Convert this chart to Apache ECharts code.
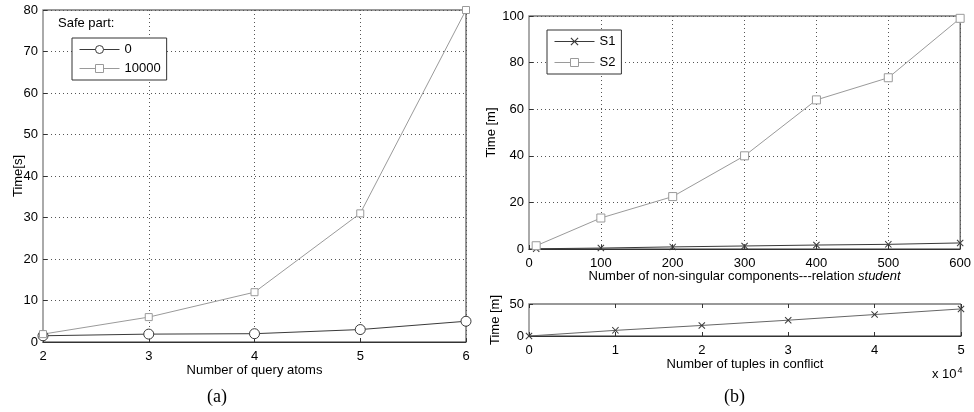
<!DOCTYPE html>
<html>
<head>
<meta charset="utf-8">
<script src="https://cdn.jsdelivr.net/npm/echarts@6/dist/echarts.min.js"></script>
<style>
  html, body { margin: 0; padding: 0; background: #fff; }
  #chart { width: 974px; height: 412px; }
</style>
</head>
<body>
<div id="chart"></div>
<script>
// (a) query atoms vs time
const atoms = [2, 3, 4, 5, 6]
const safe0 = [1.5, 1.9, 2.0, 3.0, 5.0]
const safe10000 = [1.9, 6.0, 12.0, 31.0, 80.0]

// (b) top: non-singular components
const components = [10, 100, 200, 300, 400, 500, 600]
const s1 = [0.1, 0.4, 0.9, 1.3, 1.7, 2.0, 2.6]
const s2 = [1.4, 13.3, 22.5, 40, 64, 73.5, 99]

// (b) bottom: tuples in conflict (x 10^4)
const tuples = [0, 1, 2, 3, 4, 5]
const tupleTime = [0, 8.8, 16.5, 24.7, 33.5, 42.3]

const FONT = '"Liberation Sans", Arial, sans-serif'
const DARK = '#3a3a3a'
const LIGHT = '#9a9a9a'
const xMark = 'path://M0,1L1,0L5,4L9,0L10,1L6,5L10,9L9,10L5,6L1,10L0,9L4,5Z'

const pairs = (xs, ys) => xs.map((x, i) => [x, ys[i]])

const label = { color: '#000', fontFamily: FONT, fontSize: 13 }
const nameStyle = { color: '#000', fontFamily: FONT, fontSize: 13 }
const split = { show: true, lineStyle: { color: '#555', type: [1, 3], width: 1 } }
const tick = { show: true, inside: true, length: 4, lineStyle: { color: '#333' } }
const leftLine = { show: true, lineStyle: { color: '#aaa', width: 2 } }
const bottomLine = { show: true, lineStyle: { color: '#333', width: 1 } }

const legendBase = {
  orient: 'vertical', itemWidth: 40, itemHeight: 10, padding: [5, 6, 5, 7],
  borderColor: '#333', borderWidth: 1, backgroundColor: '#fff',
  lineStyle: { width: 1 }, itemStyle: { borderWidth: 1 },
  textStyle: { color: '#000', fontFamily: FONT, fontSize: 13 }
}

const chart = echarts.init(document.getElementById('chart'))

chart.setOption({
  animation: false,
  backgroundColor: '#fff',
  textStyle: { fontFamily: FONT },
  grid: [
    { left: 43, top: 10, width: 423, height: 332, show: true, borderColor: '#333', borderWidth: 1 },
    { left: 529, top: 16, width: 432, height: 233, show: true, borderColor: '#333', borderWidth: 1 },
    { left: 529, top: 304, width: 432, height: 32, show: true, borderColor: '#333', borderWidth: 1 }
  ],
  xAxis: [
    {
      gridIndex: 0, type: 'value', min: 2, max: 6, interval: 1,
      name: 'Number of query atoms', nameLocation: 'middle', nameGap: 22, nameTextStyle: nameStyle,
      nameMoveOverlap: false,
      axisLabel: label, axisTick: tick, axisLine: bottomLine, splitLine: split
    },
    {
      gridIndex: 1, type: 'value', min: 0, max: 600, interval: 100,
      name: 'Number of non-singular components---relation {i|student}',
      nameLocation: 'middle', nameGap: 21, nameMoveOverlap: false,
      nameTextStyle: Object.assign({}, nameStyle, { rich: { i: { fontStyle: 'italic', fontFamily: FONT, fontSize: 13, color: '#000' } } }),
      axisLabel: label, axisTick: tick, axisLine: bottomLine, splitLine: split
    },
    {
      gridIndex: 2, type: 'value', min: 0, max: 5, interval: 1,
      name: 'Number of tuples in conflict', nameLocation: 'middle', nameGap: 22, nameTextStyle: nameStyle,
      nameMoveOverlap: false,
      axisLabel: label, axisTick: tick, axisLine: bottomLine, splitLine: { show: false }
    },
    {
      gridIndex: 2, type: 'value', min: 0, max: 5, interval: 1, position: 'top',
      axisLabel: { show: false }, axisTick: tick, axisLine: { show: false }, splitLine: { show: false }
    }
  ],
  yAxis: [
    {
      gridIndex: 0, type: 'value', min: 0, max: 80, interval: 10,
      name: 'Time[s]', nameLocation: 'middle', nameGap: 18, nameTextStyle: nameStyle,
      nameMoveOverlap: false,
      axisLabel: Object.assign({ margin: 5 }, label), axisTick: tick, axisLine: leftLine, splitLine: split
    },
    {
      gridIndex: 1, type: 'value', min: 0, max: 100, interval: 20,
      name: 'Time [m]', nameLocation: 'middle', nameGap: 31, nameTextStyle: nameStyle,
      nameMoveOverlap: false,
      axisLabel: Object.assign({ margin: 5 }, label), axisTick: tick, axisLine: leftLine, splitLine: split
    },
    {
      gridIndex: 2, type: 'value', min: 0, max: 50, interval: 50,
      name: 'Time [m]', nameLocation: 'middle', nameGap: 27, nameTextStyle: nameStyle,
      nameMoveOverlap: false,
      axisLabel: Object.assign({ margin: 5 }, label), axisTick: tick, axisLine: leftLine, splitLine: { show: false }
    }
  ],
  legend: [
    Object.assign({}, legendBase, { data: ['0', '10000'], left: 72, top: 38, itemGap: 6 }),
    Object.assign({}, legendBase, { data: ['S1', 'S2'], left: 547, top: 30, itemGap: 8 })
  ],
  series: [
    {
      name: '0', type: 'line', xAxisIndex: 0, yAxisIndex: 0,
      data: pairs(atoms, safe0),
      symbol: 'circle', symbolSize: 10,
      lineStyle: { color: DARK, width: 1 },
      itemStyle: { color: '#fff', borderColor: DARK, borderWidth: 1 }
    },
    {
      name: '10000', type: 'line', xAxisIndex: 0, yAxisIndex: 0,
      data: pairs(atoms, safe10000),
      symbol: 'rect', symbolSize: 7,
      lineStyle: { color: LIGHT, width: 1 },
      itemStyle: { color: '#fff', borderColor: LIGHT, borderWidth: 1 }
    },
    {
      name: 'S1', type: 'line', xAxisIndex: 1, yAxisIndex: 1,
      data: pairs(components, s1),
      symbol: xMark, symbolSize: 7,
      lineStyle: { color: DARK, width: 1 }, itemStyle: { color: DARK, borderWidth: 0 }
    },
    {
      name: 'S2', type: 'line', xAxisIndex: 1, yAxisIndex: 1,
      data: pairs(components, s2),
      symbol: 'rect', symbolSize: 8,
      lineStyle: { color: LIGHT, width: 1 },
      itemStyle: { color: '#fff', borderColor: LIGHT, borderWidth: 1 }
    },
    {
      name: 'tuples', type: 'line', xAxisIndex: 2, yAxisIndex: 2,
      data: pairs(tuples, tupleTime),
      symbol: xMark, symbolSize: 7,
      lineStyle: { color: '#666', width: 1 }, itemStyle: { color: DARK, borderWidth: 0 }
    }
  ],
  graphic: [
    { type: 'text', left: 58, top: 17, style: { text: 'Safe part:', fill: '#000', font: '13px ' + FONT } },
    {
      type: 'text', left: 932, top: 366,
      style: {
        text: 'x 10{s|4}', fill: '#000', font: '13px ' + FONT,
        rich: { s: { fontSize: 9, verticalAlign: 'top', padding: [0, 0, 8, 1], fontFamily: FONT } }
      }
    },
    { type: 'text', left: 207, top: 388, style: { text: '(a)', fill: '#000', font: '18px "Liberation Serif", "DejaVu Serif", serif' } },
    { type: 'text', left: 724, top: 388, style: { text: '(b)', fill: '#000', font: '18px "Liberation Serif", "DejaVu Serif", serif' } }
  ]
})
</script>
</body>
</html>
